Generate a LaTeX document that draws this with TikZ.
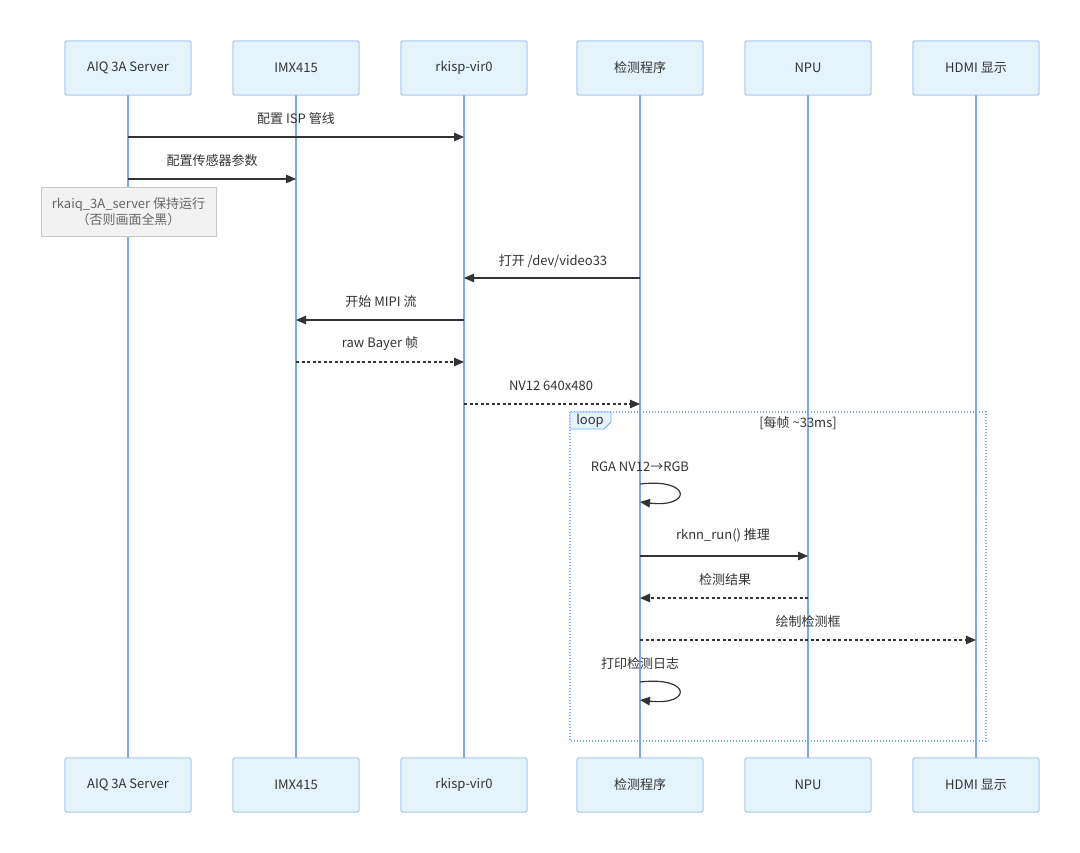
\documentclass[tikz,border=0pt]{standalone}
\usepackage{fontspec}
\setmainfont{Noto Sans CJK SC}
\usetikzlibrary{arrows.meta}
\definecolor{actfill}{HTML}{E5F3FC}
\definecolor{actline}{HTML}{9DC3F5}
\definecolor{life}{HTML}{74A9F7}
\definecolor{txt}{HTML}{333333}
\definecolor{notefill}{HTML}{F2F2F2}
\definecolor{noteline}{HTML}{C8C8C8}
\definecolor{notetxt}{HTML}{666666}
\tikzset{
  actor/.style={draw=actline, fill=actfill, line width=0.8pt, rounded corners=2pt, minimum width=126pt, minimum height=54pt, text=txt, font=\fontsize{13}{15}\selectfont},
  lifeline/.style={draw=life, line width=1.4pt},
  msg/.style={draw=txt, line width=1.2pt, -{Triangle[length=10pt,width=8.5pt]}},
  rmsg/.style={msg, dash pattern=on 3pt off 2.5pt},
  lbl/.style={text=txt, font=\fontsize{13}{15}\selectfont, inner sep=0pt},
  loopbox/.style={draw=life, line width=1.2pt, dash pattern=on 1.3pt off 1.7pt},
}
\begin{document}
\begin{tikzpicture}[x=1pt,y=-1pt]
\useasboundingbox (0,0) rectangle (1080,853);
\foreach \i/\x/\t in {1/128/AIQ 3A Server,2/296/IMX415,3/464/rkisp-vir0,4/640/检测程序,5/808/NPU,6/976/HDMI 显示}{
  \node[actor] (a\i) at (\x,68) {\t};
  \node[actor] (b\i) at (\x,785) {\t};
}
\foreach \i in {1,...,6}{ \draw[lifeline] (a\i.south) -- (b\i.north); }
\foreach \i/\x/\t in {1/128/AIQ 3A Server,2/296/IMX415,3/464/rkisp-vir0,4/640/检测程序,5/808/NPU,6/976/HDMI 显示}{
  \node[actor] at (\x,68) {\t};
  \node[actor] at (\x,785) {\t};
}
\coordinate (m1s) at (128,137); \coordinate (m1e) at (464,137);
\coordinate (m2s) at (128,179); \coordinate (m2e) at (296,179);
\coordinate (m3s) at (640,278); \coordinate (m3e) at (464,278);
\coordinate (m4s) at (464,320); \coordinate (m4e) at (296,320);
\coordinate (m5s) at (296,362); \coordinate (m5e) at (464,362);
\coordinate (m6s) at (464,404); \coordinate (m6e) at (640,404);
\coordinate (m8s) at (640,556); \coordinate (m8e) at (808,556);
\coordinate (m9s) at (808,598); \coordinate (m9e) at (640,598);
\coordinate (m10s) at (640,640); \coordinate (m10e) at (976,640);
\coordinate (s1s) at (640,484); \coordinate (s1e) at (640,502);
\coordinate (s2s) at (640,682); \coordinate (s2e) at (640,700);
\draw[msg] (m1s) -- (m1e);
\node[lbl] (l1) at (296,119) {配置 ISP 管线};
\draw[msg] (m2s) -- (m2e);
\node[lbl] (l2) at (212,161) {配置传感器参数};
\node[draw=noteline, fill=notefill, line width=0.8pt, minimum width=175pt, minimum height=49pt, align=center, text=notetxt, font=\fontsize{13}{16}\selectfont] (note) at (128.5,211.5) {rkaiq\_3A\_server 保持运行\\（否则画面全黑）};
\draw[msg] (m3s) -- (m3e);
\node[lbl] (l3) at (553,261) {打开 /dev/video33};
\draw[msg] (m4s) -- (m4e);
\node[lbl] (l4) at (381,302) {开始 MIPI 流};
\draw[rmsg] (m5s) -- (m5e);
\node[lbl] (l5) at (380,344) {raw Bayer 帧};
\draw[rmsg] (m6s) -- (m6e);
\node[lbl] (l6) at (551,386) {NV12 640x480};
\draw[loopbox] (570,412) rectangle (986,741);
\draw[draw=life, fill=actfill, line width=0.8pt] (570,412) -- (611,412) -- (611,422) -- (604,429) -- (570,429) -- cycle;
\node[lbl] (looplbl) at (590,421) {loop};
\node[lbl] (loopcond) at (798,423) {[每帧 \textasciitilde 33ms]};
\node[lbl] (l7) at (640,467) {RGA NV12→RGB};
\draw[msg] (s1s) .. controls (692,478) and (692,508) .. (s1e);
\draw[msg] (m8s) -- (m8e);
\node[lbl] (l8) at (723,535) {rknn\_run() 推理};
\draw[rmsg] (m9s) -- (m9e);
\node[lbl] (l9) at (725,580) {检测结果};
\draw[rmsg] (m10s) -- (m10e);
\node[lbl] (l10) at (808,622) {绘制检测框};
\node[lbl] (l11) at (640,664) {打印检测日志};
\draw[msg] (s2s) .. controls (692,676) and (692,706) .. (s2e);
\end{tikzpicture}
\end{document}
